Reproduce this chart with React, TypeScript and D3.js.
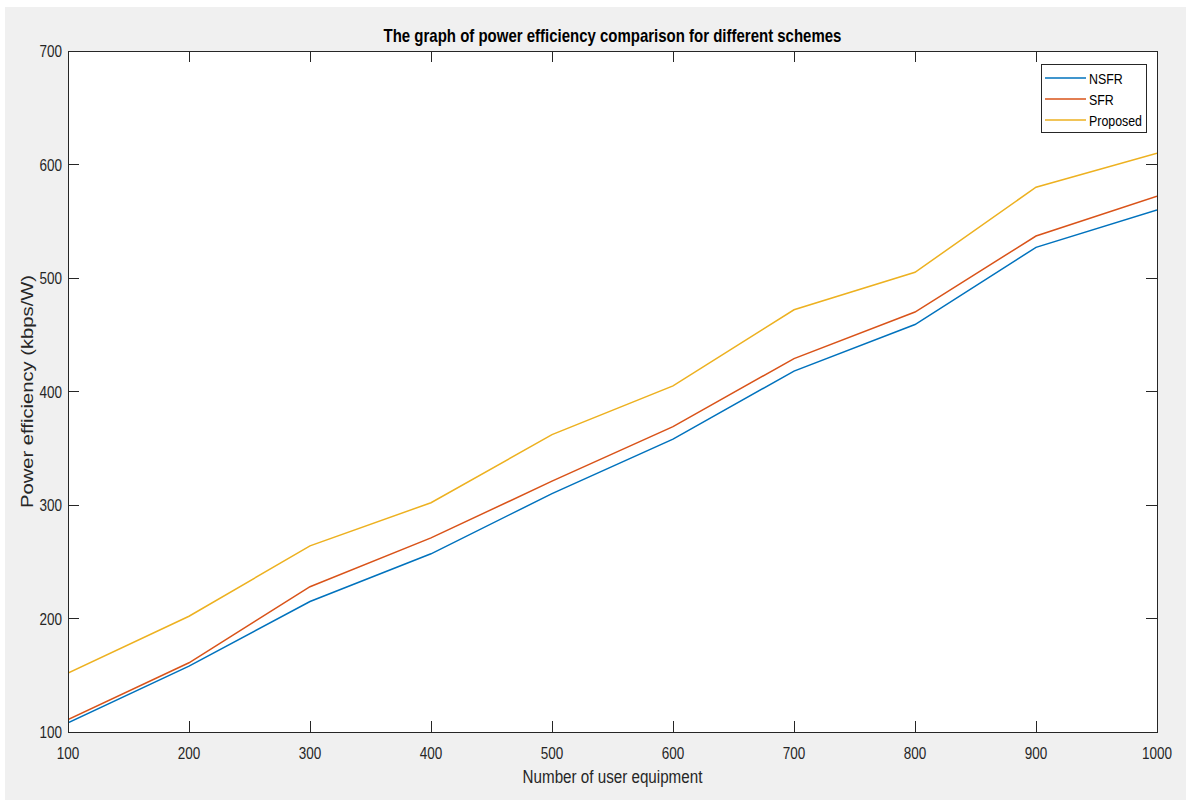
import React from "react";
import * as d3 from "d3";

// Number of user equipment
const userCounts = [100, 200, 300, 400, 500, 600, 700, 800, 900, 1000];
// Power efficiency (kbps/W) per scheme
const nsfr = [108, 158, 215, 257, 310, 358, 418, 459, 527, 560];
const sfr = [111, 161, 228, 271, 321, 369, 429, 470, 537, 572];
const proposed = [152, 202, 264, 302, 362, 405, 472, 505, 580, 610];

const seriesNames = ["NSFR", "SFR", "Proposed"];
const seriesColors = ["#0072BD", "#D95319", "#EDB120"];
const xTicks = [100, 200, 300, 400, 500, 600, 700, 800, 900, 1000];
const yTicks = [100, 200, 300, 400, 500, 600, 700];

const W = 1186;
const H = 803;
const plot = { left: 68, right: 1157, top: 51, bottom: 732 };
const font = "'Liberation Sans', Arial, Helvetica, sans-serif";
const axisColor = "#262626";
// glyphs are drawn taller than wide
const stretch = 1.25;

type TProps = {
  x: number;
  y: number;
  sx?: number;
  sy?: number;
  rotate?: number;
  anchor?: "start" | "middle" | "end";
  size: number;
  weight?: string;
  fill?: string;
  children: React.ReactNode;
};

function T({ x, y, sx = 1, sy = stretch, rotate = 0, anchor = "start", size, weight, fill = axisColor, children }: TProps) {
  return (
    <text
      transform={`translate(${x},${y}) rotate(${rotate}) scale(${sx},${sy})`}
      textAnchor={anchor}
      fontSize={size}
      fontWeight={weight}
      fill={fill}
    >
      {children}
    </text>
  );
}

export default function App() {
  const x = d3.scaleLinear().domain([100, 1000]).range([plot.left, plot.right]);
  const y = d3.scaleLinear().domain([100, 700]).range([plot.bottom, plot.top]);
  const line = d3
    .line<number>()
    .x((_, i) => x(userCounts[i]))
    .y((d) => y(d));
  const series = [nsfr, sfr, proposed];
  const tickLen = 11;

  const legend = { x: 1041, y: 64, w: 105, h: 68 };

  return (
    <svg
      width={W}
      height={H}
      style={{ position: "absolute", left: 0, top: 0, display: "block" }}
      fontFamily={font}
    >
      <rect x={0} y={0} width={W} height={H} fill="#ffffff" />
      <rect x={5} y={7} width={W - 5} height={H - 10} fill="#f0f0f0" />
      <rect
        x={plot.left}
        y={plot.top}
        width={plot.right - plot.left}
        height={plot.bottom - plot.top}
        fill="#ffffff"
      />

      {/* data lines */}
      <defs>
        <clipPath id="clip">
          <rect
            x={plot.left}
            y={plot.top}
            width={plot.right - plot.left}
            height={plot.bottom - plot.top}
          />
        </clipPath>
      </defs>
      <g clipPath="url(#clip)">
        {series.map((s, i) => (
          <path
            key={seriesNames[i]}
            d={line(s) || ""}
            fill="none"
            stroke={seriesColors[i]}
            strokeWidth={1.5}
          />
        ))}
      </g>

      {/* axes box and ticks */}
      <g stroke={axisColor} strokeWidth={1} shapeRendering="crispEdges">
        <rect
          x={plot.left}
          y={plot.top}
          width={plot.right - plot.left}
          height={plot.bottom - plot.top}
          fill="none"
        />
        {xTicks.map((t) => (
          <g key={"xt" + t}>
            <line x1={x(t)} x2={x(t)} y1={plot.bottom} y2={plot.bottom - tickLen} />
            <line x1={x(t)} x2={x(t)} y1={plot.top} y2={plot.top + tickLen} />
          </g>
        ))}
        {yTicks.map((t) => (
          <g key={"yt" + t}>
            <line x1={plot.left} x2={plot.left + tickLen} y1={y(t)} y2={y(t)} />
            <line x1={plot.right} x2={plot.right - tickLen} y1={y(t)} y2={y(t)} />
          </g>
        ))}
      </g>

      {/* tick labels */}
      {xTicks.map((t) => (
        <T key={"xl" + t} x={x(t)} y={759} anchor="middle" size={13.5}>
          {t}
        </T>
      ))}
      {yTicks.map((t) => (
        <T key={"yl" + t} x={62} y={y(t) + 6} anchor="end" size={13.5}>
          {t}
        </T>
      ))}

      {/* title and axis labels */}
      <T x={(plot.left + plot.right) / 2} y={42} anchor="middle" size={15} weight="bold" fill="#000000" sy={1.2}>
        The graph of power efficiency comparison for different schemes
      </T>
      <T x={(plot.left + plot.right) / 2} y={783} anchor="middle" size={15.2}>
        Number of user equipment
      </T>
      <T
        x={33}
        y={(plot.top + plot.bottom) / 2}
        rotate={-90}
        sx={1.33}
        sy={1.05}
        anchor="middle"
        size={15.2}
      >
        Power efficiency (kbps/W)
      </T>

      {/* legend */}
      <g>
        <rect
          x={legend.x}
          y={legend.y}
          width={legend.w}
          height={legend.h}
          fill="#ffffff"
          stroke={axisColor}
          strokeWidth={1}
          shapeRendering="crispEdges"
        />
        {seriesNames.map((name, i) => {
          const ry = 78 + i * 21;
          return (
            <g key={"lg" + name}>
              <line
                x1={1045}
                x2={1086}
                y1={ry}
                y2={ry}
                stroke={seriesColors[i]}
                strokeWidth={1.5}
              />
              <T x={1089} y={ry + 5.5} size={12.4} fill="#000000">
                {name}
              </T>
            </g>
          );
        })}
      </g>
    </svg>
  );
}
